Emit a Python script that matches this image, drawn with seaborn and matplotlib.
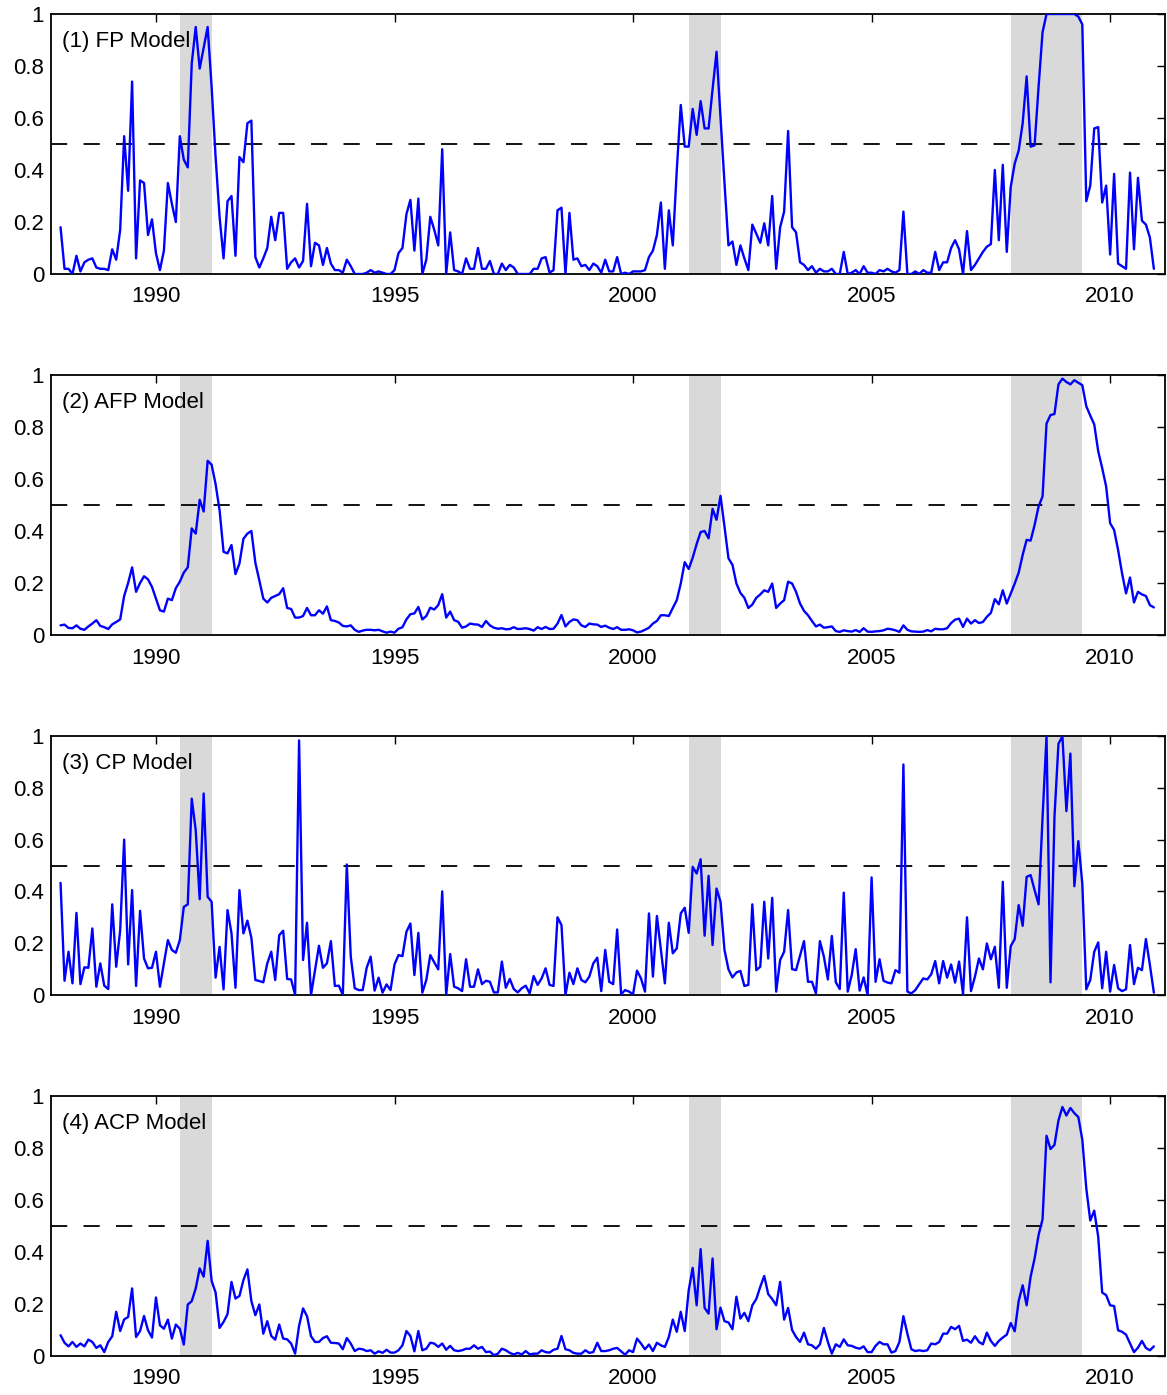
import numpy as np
import pandas as pd
import matplotlib
matplotlib.use("Agg")
import matplotlib.pyplot as plt
import seaborn as sns

# ---------------- data (monthly, Jan 1988 - Dec 2010) ----------------
start_year = 1988

fp_model = [
    0.18, 0.02, 0.02, 0.00, 0.07, 0.01, 0.045, 0.055, 0.06, 0.025,
    0.02, 0.02, 0.015, 0.095, 0.055, 0.17, 0.53, 0.32, 0.74, 0.06,
    0.36, 0.35, 0.15, 0.21, 0.08, 0.015, 0.09, 0.35, 0.27, 0.20,
    0.53, 0.44, 0.41, 0.81, 0.95, 0.79, 0.87, 0.95, 0.72, 0.45,
    0.22, 0.06, 0.28, 0.30, 0.07, 0.45, 0.43, 0.58, 0.59, 0.065,
    0.025, 0.06, 0.10, 0.22, 0.13, 0.235, 0.235, 0.02, 0.045, 0.06,
    0.025, 0.05, 0.27, 0.03, 0.12, 0.11, 0.035, 0.10, 0.04, 0.015,
    0.015, 0.005, 0.055, 0.03, 0.0, 0.0, 0.0, 0.005, 0.015, 0.005,
    0.01, 0.005, 0.0, 0.0, 0.015, 0.08, 0.10, 0.23, 0.285, 0.09,
    0.29, 0.0, 0.055, 0.22, 0.17, 0.11, 0.48, 0.0, 0.16, 0.015,
    0.01, 0.0, 0.06, 0.02, 0.02, 0.10, 0.02, 0.02, 0.05, 0.0,
    0.0, 0.04, 0.015, 0.035, 0.025, 0.0, 0.0, 0.0, 0.0, 0.02,
    0.02, 0.06, 0.065, 0.005, 0.015, 0.245, 0.255, 0.0, 0.235, 0.055,
    0.06, 0.03, 0.035, 0.015, 0.04, 0.03, 0.005, 0.055, 0.01, 0.01,
    0.065, 0.0, 0.005, 0.0, 0.01, 0.01, 0.01, 0.015, 0.065, 0.09,
    0.15, 0.275, 0.02, 0.245, 0.11, 0.40, 0.65, 0.49, 0.49, 0.635,
    0.535, 0.665, 0.56, 0.56, 0.71, 0.855, 0.60, 0.35, 0.11, 0.125,
    0.035, 0.11, 0.06, 0.015, 0.19, 0.155, 0.12, 0.195, 0.11, 0.30,
    0.02, 0.18, 0.24, 0.55, 0.18, 0.16, 0.045, 0.035, 0.015, 0.03,
    0.005, 0.02, 0.01, 0.01, 0.02, 0.0, 0.0, 0.085, 0.0, 0.005,
    0.015, 0.0, 0.03, 0.005, 0.005, 0.0, 0.015, 0.01, 0.02, 0.01,
    0.005, 0.015, 0.24, 0.0, 0.0, 0.01, 0.0, 0.015, 0.005, 0.005,
    0.085, 0.015, 0.045, 0.045, 0.10, 0.13, 0.095, 0.0, 0.165, 0.015,
    0.035, 0.06, 0.085, 0.105, 0.115, 0.40, 0.13, 0.42, 0.085, 0.335,
    0.425, 0.475, 0.58, 0.76, 0.49, 0.495, 0.72, 0.93, 1.0, 1.0,
    1.0, 1.0, 1.0, 1.0, 1.0, 1.0, 0.99, 0.96, 0.28, 0.34,
    0.56, 0.565, 0.275, 0.34, 0.075, 0.385, 0.04, 0.03, 0.02, 0.39,
    0.095, 0.37, 0.205, 0.19, 0.14, 0.02,
]

afp_model = [
    0.037, 0.04, 0.027, 0.026, 0.037, 0.024, 0.02, 0.033, 0.044, 0.057,
    0.035, 0.03, 0.023, 0.041, 0.05, 0.06, 0.15, 0.20, 0.26, 0.166,
    0.20, 0.226, 0.214, 0.185, 0.14, 0.095, 0.09, 0.14, 0.134, 0.18,
    0.205, 0.24, 0.26, 0.41, 0.39, 0.52, 0.475, 0.67, 0.655, 0.58,
    0.48, 0.32, 0.314, 0.346, 0.234, 0.275, 0.37, 0.39, 0.40, 0.278,
    0.21, 0.14, 0.125, 0.143, 0.15, 0.157, 0.18, 0.104, 0.10, 0.067,
    0.067, 0.073, 0.104, 0.076, 0.076, 0.095, 0.082, 0.11, 0.057, 0.054,
    0.048, 0.035, 0.033, 0.037, 0.02, 0.012, 0.017, 0.02, 0.02, 0.018,
    0.02, 0.014, 0.009, 0.013, 0.009, 0.024, 0.03, 0.06, 0.08, 0.083,
    0.108, 0.06, 0.073, 0.105, 0.098, 0.115, 0.157, 0.067, 0.09, 0.057,
    0.051, 0.028, 0.033, 0.044, 0.041, 0.04, 0.031, 0.054, 0.037, 0.028,
    0.024, 0.026, 0.022, 0.023, 0.03, 0.023, 0.024, 0.026, 0.023, 0.017,
    0.03, 0.023, 0.031, 0.023, 0.024, 0.044, 0.077, 0.033, 0.05, 0.06,
    0.057, 0.037, 0.031, 0.044, 0.041, 0.04, 0.031, 0.036, 0.028, 0.023,
    0.03, 0.02, 0.02, 0.022, 0.018, 0.01, 0.013, 0.02, 0.028, 0.044,
    0.054, 0.076, 0.076, 0.073, 0.104, 0.134, 0.198, 0.28, 0.254, 0.297,
    0.35, 0.396, 0.40, 0.372, 0.485, 0.443, 0.535, 0.417, 0.295, 0.27,
    0.198, 0.162, 0.143, 0.104, 0.117, 0.143, 0.156, 0.172, 0.166, 0.198,
    0.104, 0.121, 0.134, 0.205, 0.198, 0.166, 0.121, 0.093, 0.076, 0.054,
    0.033, 0.04, 0.028, 0.03, 0.033, 0.015, 0.012, 0.018, 0.015, 0.013,
    0.019, 0.012, 0.026, 0.013, 0.012, 0.014, 0.015, 0.018, 0.024, 0.022,
    0.018, 0.012, 0.037, 0.02, 0.014, 0.013, 0.012, 0.013, 0.019, 0.014,
    0.024, 0.022, 0.022, 0.026, 0.046, 0.059, 0.063, 0.031, 0.063, 0.044,
    0.057, 0.046, 0.05, 0.07, 0.085, 0.138, 0.118, 0.172, 0.121, 0.16,
    0.198, 0.24, 0.308, 0.366, 0.363, 0.423, 0.494, 0.533, 0.813, 0.846,
    0.85, 0.964, 0.986, 0.973, 0.964, 0.98, 0.97, 0.961, 0.88, 0.844,
    0.81, 0.707, 0.642, 0.571, 0.43, 0.404, 0.327, 0.237, 0.16, 0.221,
    0.125, 0.166, 0.156, 0.15, 0.115, 0.106,
]

cp_model = [
    0.433, 0.055, 0.167, 0.045, 0.317, 0.042, 0.107, 0.105, 0.257, 0.032,
    0.122, 0.036, 0.023, 0.35, 0.109, 0.25, 0.60, 0.118, 0.405, 0.035,
    0.325, 0.141, 0.103, 0.105, 0.167, 0.032, 0.122, 0.212, 0.174, 0.163,
    0.212, 0.34, 0.35, 0.758, 0.636, 0.37, 0.778, 0.379, 0.36, 0.067,
    0.186, 0.022, 0.328, 0.238, 0.028, 0.405, 0.238, 0.287, 0.221, 0.058,
    0.054, 0.049, 0.122, 0.167, 0.058, 0.231, 0.248, 0.062, 0.06, 0.0,
    0.983, 0.135, 0.279, 0.0, 0.096, 0.19, 0.105, 0.122, 0.208, 0.035,
    0.036, 0.0, 0.504, 0.148, 0.026, 0.019, 0.019, 0.105, 0.148, 0.017,
    0.067, 0.009, 0.041, 0.019, 0.118, 0.154, 0.15, 0.244, 0.276, 0.077,
    0.24, 0.009, 0.058, 0.154, 0.126, 0.099, 0.40, 0.0, 0.158, 0.032,
    0.026, 0.015, 0.138, 0.032, 0.032, 0.099, 0.042, 0.055, 0.051, 0.01,
    0.01, 0.129, 0.028, 0.062, 0.023, 0.01, 0.026, 0.036, 0.006, 0.073,
    0.039, 0.064, 0.103, 0.039, 0.035, 0.30, 0.27, 0.0, 0.086, 0.042,
    0.103, 0.058, 0.049, 0.071, 0.122, 0.144, 0.015, 0.174, 0.051, 0.042,
    0.253, 0.003, 0.019, 0.013, 0.003, 0.094, 0.064, 0.013, 0.315, 0.071,
    0.305, 0.176, 0.045, 0.279, 0.161, 0.18, 0.315, 0.337, 0.24, 0.495,
    0.469, 0.524, 0.229, 0.46, 0.193, 0.411, 0.36, 0.174, 0.099, 0.068,
    0.087, 0.093, 0.035, 0.039, 0.35, 0.096, 0.109, 0.36, 0.141, 0.375,
    0.013, 0.135, 0.167, 0.328, 0.10, 0.096, 0.152, 0.208, 0.051, 0.051,
    0.006, 0.208, 0.148, 0.06, 0.228, 0.049, 0.023, 0.395, 0.013, 0.077,
    0.177, 0.017, 0.068, 0.0, 0.454, 0.051, 0.138, 0.055, 0.048, 0.045,
    0.096, 0.086, 0.89, 0.013, 0.006, 0.019, 0.042, 0.064, 0.06, 0.08,
    0.131, 0.045, 0.131, 0.067, 0.118, 0.048, 0.129, 0.003, 0.30, 0.015,
    0.071, 0.141, 0.099, 0.199, 0.138, 0.186, 0.028, 0.437, 0.028, 0.189,
    0.216, 0.347, 0.267, 0.456, 0.463, 0.405, 0.35, 0.685, 1.0, 0.049,
    0.688, 0.97, 0.999, 0.71, 0.932, 0.42, 0.594, 0.43, 0.022, 0.058,
    0.167, 0.203, 0.026, 0.167, 0.013, 0.116, 0.026, 0.015, 0.022, 0.193,
    0.042, 0.105, 0.096, 0.216, 0.116, 0.009,
]

acp_model = [
    0.08, 0.051, 0.037, 0.054, 0.035, 0.048, 0.037, 0.063, 0.054, 0.031,
    0.041, 0.015, 0.054, 0.076, 0.17, 0.096, 0.141, 0.15, 0.26, 0.073,
    0.096, 0.154, 0.099, 0.071, 0.225, 0.118, 0.105, 0.14, 0.067, 0.121,
    0.105, 0.044, 0.198, 0.211, 0.26, 0.337, 0.305, 0.443, 0.289, 0.244,
    0.108, 0.131, 0.161, 0.285, 0.221, 0.231, 0.292, 0.333, 0.211, 0.157,
    0.198, 0.086, 0.134, 0.077, 0.063, 0.121, 0.067, 0.064, 0.048, 0.009,
    0.116, 0.183, 0.153, 0.076, 0.054, 0.054, 0.069, 0.076, 0.051, 0.05,
    0.048, 0.026, 0.069, 0.048, 0.019, 0.028, 0.026, 0.019, 0.022, 0.009,
    0.018, 0.012, 0.024, 0.013, 0.013, 0.022, 0.041, 0.096, 0.077, 0.018,
    0.096, 0.022, 0.028, 0.051, 0.048, 0.035, 0.048, 0.024, 0.039, 0.022,
    0.019, 0.022, 0.028, 0.028, 0.041, 0.028, 0.035, 0.015, 0.017, 0.003,
    0.009, 0.028, 0.022, 0.012, 0.006, 0.012, 0.006, 0.019, 0.006, 0.009,
    0.009, 0.022, 0.015, 0.013, 0.024, 0.028, 0.077, 0.026, 0.022, 0.012,
    0.009, 0.009, 0.022, 0.012, 0.015, 0.051, 0.019, 0.019, 0.022, 0.028,
    0.031, 0.018, 0.005, 0.022, 0.015, 0.067, 0.048, 0.026, 0.044, 0.019,
    0.051, 0.041, 0.035, 0.073, 0.14, 0.093, 0.17, 0.096, 0.253, 0.339,
    0.195, 0.411, 0.185, 0.163, 0.375, 0.103, 0.186, 0.134, 0.129, 0.103,
    0.228, 0.144, 0.166, 0.134, 0.195, 0.219, 0.266, 0.308, 0.238, 0.219,
    0.195, 0.285, 0.14, 0.185, 0.10, 0.073, 0.054, 0.09, 0.045, 0.041,
    0.028, 0.045, 0.108, 0.054, 0.009, 0.045, 0.035, 0.064, 0.041, 0.039,
    0.032, 0.028, 0.037, 0.015, 0.015, 0.039, 0.054, 0.045, 0.045, 0.013,
    0.019, 0.054, 0.153, 0.086, 0.026, 0.019, 0.022, 0.019, 0.022, 0.048,
    0.045, 0.054, 0.086, 0.086, 0.112, 0.103, 0.116, 0.058, 0.063, 0.051,
    0.076, 0.054, 0.045, 0.09, 0.058, 0.039, 0.058, 0.071, 0.082, 0.127,
    0.095, 0.212, 0.272, 0.195, 0.305, 0.375, 0.465, 0.526, 0.847, 0.796,
    0.812, 0.906, 0.958, 0.925, 0.954, 0.934, 0.919, 0.832, 0.645, 0.521,
    0.559, 0.459, 0.244, 0.234, 0.195, 0.192, 0.099, 0.093, 0.082, 0.048,
    0.015, 0.032, 0.058, 0.031, 0.022, 0.037,
]

panel_titles = ["(1) FP Model", "(2) AFP Model", "(3) CP Model", "(4) ACP Model"]
series = [fp_model, afp_model, cp_model, acp_model]

recession_starts = [1990 + 6 / 12, 2001 + 2 / 12, 2007 + 11 / 12]
recession_ends = [1991 + 2 / 12, 2001 + 10 / 12, 2009 + 5 / 12]

threshold = 0.5
x_ticks = [1990, 1995, 2000, 2005, 2010]
y_ticks = [0, 0.2, 0.4, 0.6, 0.8, 1]
y_ticklabels = ["0", "0.2", "0.4", "0.6", "0.8", "1"]

# ---------------- style ----------------
sns.set_style("white")
plt.rcParams["font.family"] = ["Liberation Sans", "DejaVu Sans"]

W, H = 1167, 1395
fig = plt.figure(figsize=(W / 100, H / 100), dpi=100)

# axes boxes in pixels: (top, bottom)
boxes = [(14, 274), (375, 635), (736, 995), (1096, 1356)]
left_px, right_px = 51, 1165

for (top, bot), title, vals in zip(boxes, panel_titles, series):
    ax = fig.add_axes([left_px / W, 1 - bot / H, (right_px - left_px) / W, (bot - top) / H])
    for s, e in zip(recession_starts, recession_ends):
        ax.axvspan(s, e, color="#d9d9d9", lw=0, zorder=0)
    ax.axhline(threshold, color="black", lw=1.3, dashes=(9, 9), zorder=1)

    df = pd.DataFrame({"date": start_year + np.arange(len(vals)) / 12.0, "prob": vals})
    sns.lineplot(data=df, x="date", y="prob", ax=ax, color="#0000ff",
                 lw=1.7, estimator=None, zorder=3)

    ax.set_xlim(1987.80, 2011.15)
    ax.set_ylim(0, 1)
    ax.set_xticks(x_ticks)
    ax.set_xticklabels([str(t) for t in x_ticks])
    ax.set_yticks(y_ticks)
    ax.set_yticklabels(y_ticklabels)
    ax.set_xlabel("")
    ax.set_ylabel("")
    ax.tick_params(direction="in", top=True, right=True, length=6, width=1.0,
                   labelsize=16, colors="black")
    ax.tick_params(axis="x", pad=9)
    ax.tick_params(axis="y", pad=5)
    for sp in ax.spines.values():
        sp.set_visible(True)
        sp.set_color("black")
        sp.set_linewidth(1.3)
    ax.text(0.0095, 0.893, title, transform=ax.transAxes, fontsize=16,
            va="center", ha="left", color="black", zorder=2)

fig.savefig("out.png", dpi=100)
